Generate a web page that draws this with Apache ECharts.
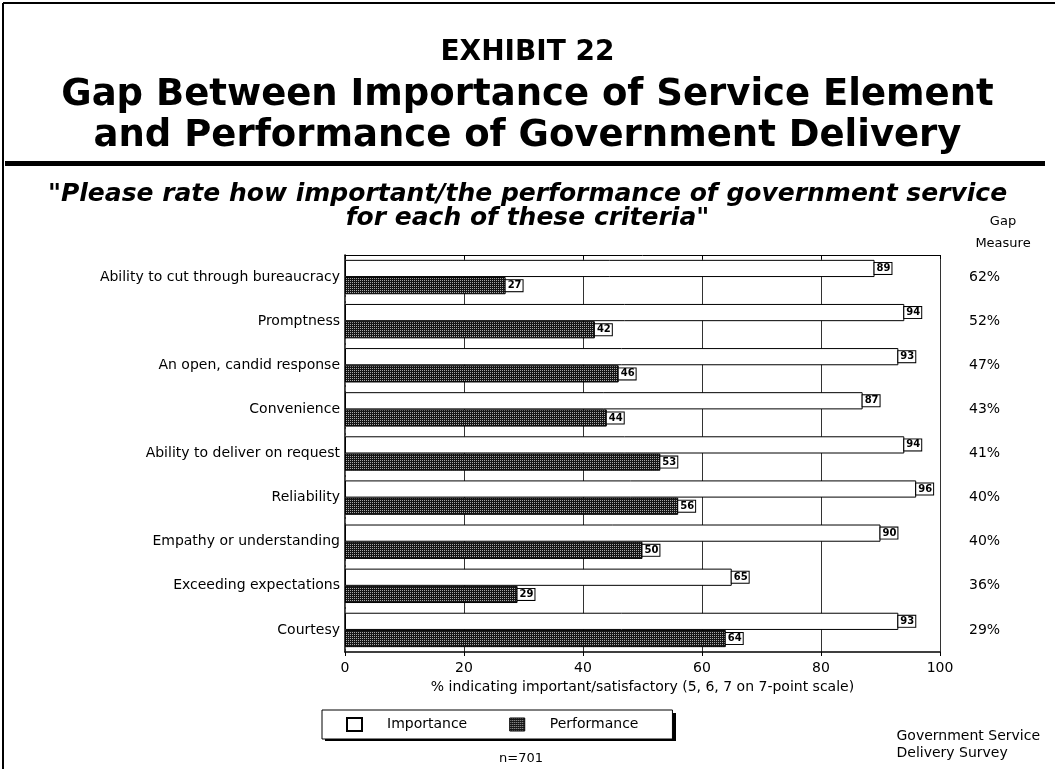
<!DOCTYPE html>
<html><head><meta charset="utf-8">
<script src="https://cdn.jsdelivr.net/npm/echarts@6/dist/echarts.min.js"></script>
<style>html,body{margin:0;padding:0;background:#fff}#c{width:1055px;height:769px}</style>
</head><body><div id="c"></div>
<script>
const categories = ["Ability to cut through bureaucracy","Promptness","An open, candid response","Convenience","Ability to deliver on request","Reliability","Empathy or understanding","Exceeding expectations","Courtesy"];
const importance = [89,94,93,87,94,96,90,65,93];
const performance = [27,42,46,44,53,56,50,29,64];
const gapMeasure = ["62%","52%","47%","43%","41%","40%","40%","36%","29%"];

const pc = document.createElement('canvas'); pc.width = 2; pc.height = 2;
const g = pc.getContext('2d');
g.fillStyle = '#151515'; g.fillRect(0,0,2,2);
g.fillStyle = '#a8a8a8'; g.fillRect(0,0,1,1);
const pattern = {image: pc, repeat: 'repeat'};

const F = '"DejaVu Sans", "Liberation Sans", Arial, sans-serif';
const chart = echarts.init(document.getElementById('c'));
const lbl = {show:true, position:'right', distance:0, color:'#000', fontFamily:F, fontSize:10, fontWeight:'bold',
  backgroundColor:'#fff', borderColor:'#000', borderWidth:1, padding:[1,1,0,2]};
chart.setOption({
  backgroundColor:'#fff',
  animation:false,
  title:[
    {text:'EXHIBIT 22', left:'center', top:31, textStyle:{fontFamily:F, fontSize:28, fontWeight:'bold', color:'#000', lineHeight:34}},
    {text:'Gap Between Importance of Service Element\nand Performance of Government Delivery', left:'center', top:70,
      textStyle:{fontFamily:F, fontSize:37, fontWeight:'bold', color:'#000', lineHeight:41}},
    {text:'"Please rate how important/the performance of government service\nfor each of these criteria"', left:'center', top:177,
      textStyle:{fontFamily:F, fontSize:25, fontWeight:'bold', fontStyle:'italic', color:'#000', lineHeight:24}},
    {text:'Gap\nMeasure', left:998, top:206, textAlign:'center', textStyle:{fontFamily:F, fontSize:13, fontWeight:'normal', color:'#000', lineHeight:22, align:'center'}},
    {text:'n=701', left:516, top:747, textAlign:'center', textStyle:{fontFamily:F, fontSize:13, fontWeight:'normal', color:'#000'}},
    {text:'Government Service\nDelivery Survey', right:10, top:723, textStyle:{fontFamily:F, fontSize:14, fontWeight:'normal', color:'#000', lineHeight:17, align:'right'}}
  ],
  legend:{left:322, top:710, orient:'horizontal', z:10, data:[
      {name:'Importance', itemStyle:{color:'#fff', borderColor:'#000', borderWidth:2}},
      {name:'Performance', itemStyle:{color:pattern, borderColor:'#000', borderWidth:1}}],
    icon:'rect', itemWidth:15, itemHeight:13, itemGap:42,
    padding:[7,34,7,24], backgroundColor:'#fff', borderColor:'#000', borderWidth:1,
    textStyle:{fontFamily:F, fontSize:14, color:'#000', padding:[0,0,0,20]}},
  grid:{left:345, right:115, top:255, bottom:117},
  xAxis:[
    {type:'value', min:0, max:100, interval:20, position:'bottom',
     axisLine:{show:true, lineStyle:{color:'#000', width:1.5}}, axisTick:{show:true, length:4, lineStyle:{color:'#000'}},
     axisLabel:{fontFamily:F, fontSize:14, color:'#000', margin:9},
     splitLine:{show:true, lineStyle:{color:'#333', width:1}},
     name:'% indicating important/satisfactory (5, 6, 7 on 7-point scale)', nameLocation:'middle', nameGap:26,
     nameTextStyle:{fontFamily:F, fontSize:14, color:'#000'}},
    {type:'value', min:0, max:100, interval:20, position:'top',
     axisLine:{show:true, lineStyle:{color:'#000', width:1}}, axisTick:{show:true, inside:true, length:4, lineStyle:{color:'#000'}}, axisLabel:{show:false}, splitLine:{show:false}}
  ],
  yAxis:[
    {type:'category', data:categories, inverse:true, position:'left',
     axisLine:{show:true, lineStyle:{color:'#000', width:1.5}}, axisTick:{show:false},
     axisLabel:{fontFamily:F, fontSize:14, color:'#000', margin:5}},
    {type:'category', data:gapMeasure, inverse:true, position:'right',
     axisLine:{show:true, lineStyle:{color:'#555', width:1, type:'dashed'}}, axisTick:{show:false},
     axisLabel:{fontFamily:F, fontSize:14, color:'#000', margin:29}}
  ],
  series:[
    {name:'Importance', type:'bar', data:importance, barGap:'0%', barCategoryGap:'22%',
     itemStyle:{color:'#fff', borderColor:'#000', borderWidth:1}, label:lbl},
    {name:'Performance', type:'bar', data:performance, barGap:'0%', barCategoryGap:'22%',
     itemStyle:{color:pattern, borderColor:'#000', borderWidth:1}, label:lbl}
  ],
  graphic:[
    {type:'rect', z:1, shape:{x:325, y:713, width:351, height:28}, style:{fill:'#000'}},
    {type:'rect', shape:{x:5, y:161, width:1040, height:5}, style:{fill:'#000'}},
    {type:'line', shape:{x1:3, y1:3, x2:3, y2:769}, style:{stroke:'#000', lineWidth:2}},
    {type:'line', shape:{x1:3, y1:3, x2:1055, y2:3}, style:{stroke:'#000', lineWidth:2}}
  ]
});
</script></body></html>
